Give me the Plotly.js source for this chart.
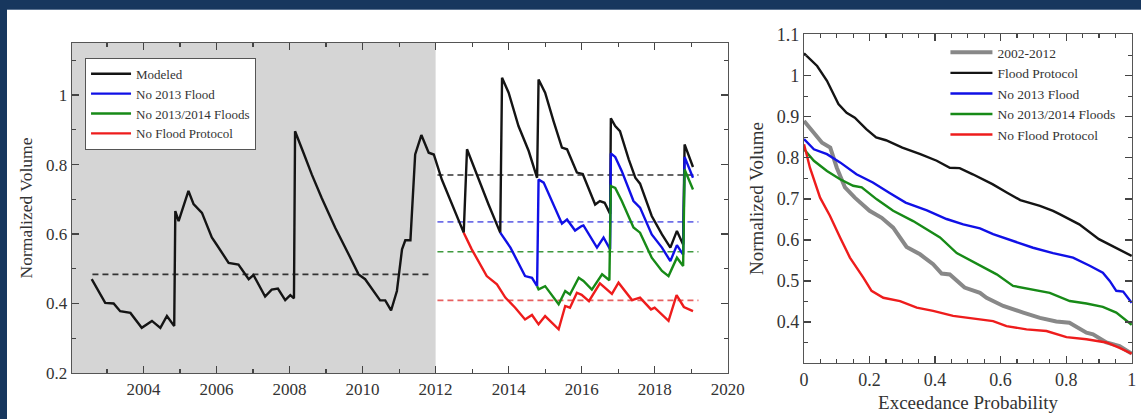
<!DOCTYPE html>
<html>
<head>
<meta charset="utf-8">
<script src="https://cdn.plot.ly/plotly-3.0.1.min.js"></script>
<style>
html,body{margin:0;padding:0;background:#17375e;width:1141px;height:419px;overflow:hidden;}
#frame{position:absolute;left:7px;top:9px;width:1134px;height:410px;background:#ffffff;border-top:1px solid #5b7391;}
#plot{position:absolute;left:0;top:0;width:1134px;height:410px;}
</style>
</head>
<body>
<div id="frame"><div id="plot"></div></div>
<script>
// ---------- Left panel: time series (decimal years) ----------
const modeledX = [2002.58,2002.95,2003.18,2003.36,2003.64,2003.95,2004.23,2004.46,2004.64,2004.84,2004.87,2004.96,2005.23,2005.37,2005.6,2005.87,2006.0,2006.33,2006.6,2006.88,2007.01,2007.33,2007.51,2007.68,2007.88,2008.02,2008.12,2008.15,2008.38,2008.61,2008.88,2009.25,2009.62,2009.89,2010.07,2010.48,2010.62,2010.78,2010.94,2011.08,2011.17,2011.31,2011.44,2011.61,2011.81,2011.95,2012.17,2012.45,2012.77,2012.86,2013.13,2013.45,2013.77,2013.82,2014.0,2014.27,2014.55,2014.78,2014.82,2015.0,2015.23,2015.46,2015.6,2015.87,2016.03,2016.37,2016.5,2016.63,2016.78,2016.8,2016.92,2017.05,2017.29,2017.47,2017.6,2017.92,2018.2,2018.43,2018.61,2018.78,2018.82,2018.93,2019.05];
const modeledY = [0.47,0.402,0.40,0.378,0.373,0.33,0.35,0.33,0.364,0.335,0.666,0.637,0.724,0.686,0.661,0.59,0.57,0.517,0.512,0.47,0.482,0.42,0.44,0.443,0.41,0.424,0.415,0.896,0.834,0.771,0.704,0.618,0.541,0.484,0.47,0.409,0.409,0.38,0.436,0.556,0.582,0.582,0.829,0.885,0.834,0.829,0.757,0.685,0.604,0.844,0.771,0.685,0.604,1.05,1.007,0.911,0.839,0.762,1.045,1.007,0.925,0.849,0.844,0.777,0.773,0.685,0.695,0.69,0.658,0.933,0.911,0.896,0.815,0.762,0.745,0.652,0.599,0.561,0.609,0.57,0.858,0.829,0.793];

const no2013X = [2013.77,2014.05,2014.45,2014.64,2014.78,2014.82,2014.96,2015.23,2015.46,2015.6,2015.82,2016.0,2016.05,2016.42,2016.6,2016.78,2016.8,2016.92,2017.1,2017.42,2017.6,2017.92,2018.2,2018.43,2018.61,2018.78,2018.82,2019.05];
const no2013Y = [0.604,0.561,0.479,0.474,0.45,0.757,0.748,0.685,0.63,0.642,0.61,0.623,0.625,0.561,0.59,0.556,0.832,0.822,0.781,0.695,0.676,0.599,0.561,0.522,0.568,0.541,0.822,0.762];

const no20132014X = [2014.78,2014.82,2015.0,2015.18,2015.37,2015.55,2015.68,2015.92,2016.05,2016.28,2016.56,2016.76,2016.8,2016.92,2017.1,2017.42,2017.6,2017.92,2018.2,2018.38,2018.61,2018.78,2018.82,2019.05];
const no20132014Y = [0.45,0.441,0.45,0.426,0.398,0.436,0.426,0.474,0.465,0.44,0.484,0.467,0.738,0.733,0.695,0.619,0.604,0.532,0.494,0.479,0.532,0.508,0.786,0.728];

const noProtocolX = [2012.77,2012.99,2013.4,2013.68,2013.91,2014.18,2014.45,2014.64,2014.82,2015.0,2015.37,2015.55,2015.68,2015.87,2016.0,2016.2,2016.5,2016.83,2017.01,2017.38,2017.6,2017.9,2018.0,2018.38,2018.6,2018.8,2019.05];
const noProtocolY = [0.604,0.556,0.479,0.455,0.417,0.388,0.354,0.367,0.34,0.364,0.326,0.393,0.388,0.431,0.425,0.407,0.458,0.428,0.46,0.41,0.417,0.383,0.388,0.35,0.424,0.39,0.378];

// mean levels (dashed lines)
const meanHistX = [2002.6, 2011.9];
const meanHistY = 0.484;
const meanFutX = [2012.05, 2019.2];
const meanModeled = 0.77;
const meanNo2013 = 0.635;
const meanNo20132014 = 0.549;
const meanNoProtocol = 0.409;

const shadeStart = 2002.04, shadeEnd = 2012;

// ---------- Right panel: exceedance curves ----------
const hist_p = [0,0.035,0.055,0.08,0.10,0.125,0.155,0.2,0.237,0.272,0.313,0.354,0.394,0.42,0.445,0.49,0.537,0.557,0.608,0.669,0.72,0.77,0.81,0.862,0.882,0.923,0.963,1.0];
const hist_v = [0.89,0.858,0.837,0.825,0.776,0.728,0.703,0.671,0.654,0.63,0.583,0.565,0.541,0.518,0.516,0.484,0.471,0.459,0.439,0.423,0.41,0.401,0.398,0.374,0.37,0.35,0.341,0.323];

const fp_p = [0,0.04,0.07,0.105,0.13,0.155,0.19,0.22,0.25,0.30,0.355,0.405,0.445,0.475,0.515,0.575,0.62,0.66,0.72,0.76,0.78,0.84,0.90,1.0];
const fp_v = [1.055,1.024,0.988,0.931,0.91,0.898,0.87,0.85,0.843,0.825,0.809,0.793,0.776,0.775,0.76,0.736,0.715,0.697,0.683,0.671,0.663,0.638,0.602,0.561];

const n13_p = [0,0.03,0.07,0.11,0.16,0.21,0.26,0.31,0.375,0.435,0.486,0.537,0.577,0.638,0.699,0.76,0.821,0.872,0.912,0.933,0.953,0.974,1.0];
const n13_v = [0.846,0.821,0.809,0.789,0.76,0.74,0.715,0.691,0.672,0.651,0.638,0.628,0.614,0.598,0.581,0.568,0.557,0.537,0.52,0.5,0.476,0.474,0.447];

const n1314_p = [0,0.03,0.07,0.11,0.15,0.176,0.222,0.272,0.333,0.384,0.415,0.466,0.527,0.588,0.638,0.689,0.75,0.811,0.862,0.912,0.953,1.0];
const n1314_v = [0.821,0.793,0.768,0.748,0.732,0.728,0.699,0.671,0.646,0.622,0.606,0.568,0.542,0.516,0.488,0.48,0.471,0.451,0.445,0.437,0.423,0.393];

const nfp_p = [0,0.018,0.049,0.079,0.11,0.14,0.181,0.206,0.242,0.293,0.344,0.394,0.455,0.516,0.577,0.618,0.679,0.74,0.801,0.862,0.923,0.963,1.0];
const nfp_v = [0.833,0.776,0.703,0.659,0.606,0.557,0.508,0.476,0.459,0.451,0.435,0.427,0.415,0.408,0.402,0.39,0.382,0.378,0.363,0.358,0.35,0.337,0.323];

const leftNames = ['Modeled','No 2013 Flood','No 2013/2014 Floods','No Flood Protocol'];
const rightNames = ['2002-2012','Flood Protocol','No 2013 Flood','No 2013/2014 Floods','No Flood Protocol'];

// ---------- styles ----------
const FONT = 'Liberation Serif, Times New Roman, serif';
const C = {black:'#141414', blue:'#1010e6', green:'#178a17', red:'#ee1c1c', gray:'#888888'};
const LW = 2.4;
const TXT = '#333333';

function dashed(x, y, color, xa, ya){
  return {x:x, y:[y,y], mode:'lines', xaxis:xa, yaxis:ya, showlegend:false, hoverinfo:'skip',
          line:{color:color, width:1.6, dash:'6px,4px'}};
}

const traces = [
  dashed(meanHistX, meanHistY, '#333333','x','y'),
  dashed(meanFutX, meanModeled, '#333333','x','y'),
  dashed(meanFutX, meanNo2013, '#6f6fe8','x','y'),
  dashed(meanFutX, meanNo20132014, '#3f9a3f','x','y'),
  dashed(meanFutX, meanNoProtocol, '#e86060','x','y'),
  {x:modeledX, y:modeledY, name:leftNames[0], mode:'lines', xaxis:'x', yaxis:'y', legend:'legend', line:{color:C.black,width:LW}},
  {x:no2013X, y:no2013Y, name:leftNames[1], mode:'lines', xaxis:'x', yaxis:'y', legend:'legend', line:{color:C.blue,width:LW}},
  {x:no20132014X, y:no20132014Y, name:leftNames[2], mode:'lines', xaxis:'x', yaxis:'y', legend:'legend', line:{color:C.green,width:LW}},
  {x:noProtocolX, y:noProtocolY, name:leftNames[3], mode:'lines', xaxis:'x', yaxis:'y', legend:'legend', line:{color:C.red,width:LW}},

  {x:hist_p, y:hist_v, name:rightNames[0], mode:'lines', xaxis:'x2', yaxis:'y2', legend:'legend2', line:{color:C.gray,width:4}},
  {x:fp_p, y:fp_v, name:rightNames[1], mode:'lines', xaxis:'x2', yaxis:'y2', legend:'legend2', line:{color:C.black,width:LW}},
  {x:n13_p, y:n13_v, name:rightNames[2], mode:'lines', xaxis:'x2', yaxis:'y2', legend:'legend2', line:{color:C.blue,width:LW}},
  {x:n1314_p, y:n1314_v, name:rightNames[3], mode:'lines', xaxis:'x2', yaxis:'y2', legend:'legend2', line:{color:C.green,width:LW}},
  {x:nfp_p, y:nfp_v, name:rightNames[4], mode:'lines', xaxis:'x2', yaxis:'y2', legend:'legend2', line:{color:C.red,width:LW}}
];

const axCommon = {
  showline:true, linecolor:'#555555', linewidth:1.3, mirror:'ticks',
  ticks:'inside', ticklen:7, tickcolor:'#444444', tickwidth:1.2,
  showgrid:false, zeroline:false, automargin:false,
  tickfont:{family:FONT, size:17, color:TXT}
};

const layout = {
  width:1134, height:410,
  margin:{l:65, r:9, t:24, b:47, pad:0},
  paper_bgcolor:'rgba(0,0,0,0)', plot_bgcolor:'#ffffff',
  font:{family:FONT, color:TXT},
  showlegend:true,
  xaxis: Object.assign({}, axCommon, {
    domain:[0, 0.6189], range:[2002.04, 2020.01], tickmode:'linear', tick0:2004, dtick:2,
    minor:{ticks:'inside', ticklen:4, tickcolor:'#444444', tickmode:'linear', tick0:2003, dtick:1}
  }),
  yaxis: Object.assign({}, axCommon, {
    domain:[0, 0.9735], range:[0.2, 1.15], tickmode:'linear', tick0:0.2, dtick:0.2,
    minor:{ticks:'inside', ticklen:4, tickcolor:'#444444', tickmode:'linear', tick0:0.3, dtick:0.2},
    title:{text:'Normalized Volume', standoff:9, font:{family:FONT, size:17.5, color:TXT}}
  }),
  xaxis2: Object.assign({}, axCommon, {
    domain:[0.6906, 1], range:[0, 1.001], tickmode:'linear', tick0:0, dtick:0.2, anchor:'y2',
    tickfont:{family:FONT, size:18, color:TXT},
    minor:{ticks:'inside', ticklen:4, tickcolor:'#444444', tickmode:'linear', tick0:0, dtick:0.05},
    title:{text:'Exceedance Probability', standoff:6, font:{family:FONT, size:19, color:TXT}}
  }),
  yaxis2: Object.assign({}, axCommon, {
    domain:[0.0295, 1], range:[0.3, 1.102], tickmode:'array', tickvals:[0.4,0.5,0.6,0.7,0.8,0.9,1,1.1], anchor:'x2',
    tickfont:{family:FONT, size:18, color:TXT},
    minor:{ticks:'inside', ticklen:4, tickcolor:'#444444', tickmode:'linear', tick0:0.35, dtick:0.1},
    title:{text:'Normalized Volume', standoff:8, font:{family:FONT, size:19, color:TXT}}
  }),
  legend:{x:0.0123, y:0.93, xanchor:'left', yanchor:'top', bgcolor:'#ffffff', bordercolor:'#555555', borderwidth:1,
          itemwidth:40, font:{family:FONT, size:13, color:TXT}, tracegroupgap:0},
  legend2:{x:0.824, y:0.991, xanchor:'left', yanchor:'top', bgcolor:'rgba(255,255,255,0)', borderwidth:0,
          itemwidth:42, font:{family:FONT, size:13.5, color:TXT}, tracegroupgap:0},
  shapes:[{type:'rect', xref:'x', yref:'y domain', x0:shadeStart, x1:shadeEnd, y0:0, y1:1,
           fillcolor:'#d5d5d5', line:{width:0}, layer:'below'}]
};

Plotly.newPlot('plot', traces, layout, {staticPlot:true, displayModeBar:false});
</script>
</body>
</html>
